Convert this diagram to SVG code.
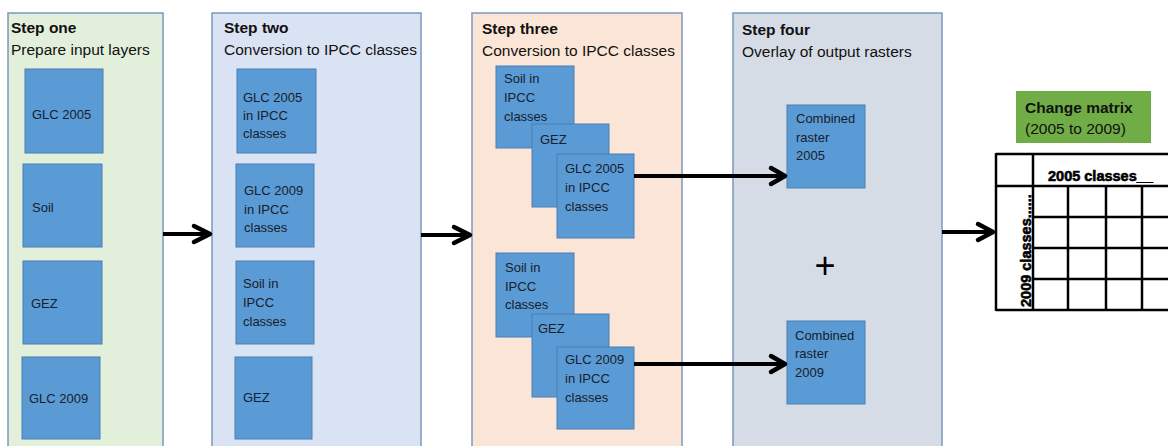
<svg xmlns="http://www.w3.org/2000/svg" width="1168" height="446" viewBox="0 0 1168 446">
<style>
.panel{stroke:#7b98c0;stroke-width:1.5}
.box{fill:#5b9bd5;stroke:#4a7fb0;stroke-width:1}
.t{font-family:"Liberation Sans",Arial,sans-serif;font-size:13px;fill:#16202c}
.h{font-family:"Liberation Sans",Arial,sans-serif;font-size:15.5px;fill:#111}
.hb{font-weight:bold}
.conn line{stroke:#000;stroke-width:4}
.conn polyline{fill:none;stroke:#000;stroke-width:4.5;stroke-linejoin:round;stroke-linecap:round}
.grid line{stroke:#000;stroke-width:2.5}
.m{font-family:"Liberation Sans",Arial,sans-serif;font-size:14.5px;font-weight:bold;fill:#000;stroke:#000;stroke-width:0.6}
</style>
<rect width="1168" height="446" fill="#fff"/>

<g id="step1">
<rect class="panel" x="8" y="13" width="155" height="440" fill="#e2efda"/>
<text class="h hb" x="11" y="33">Step one</text>
<text class="h" x="11" y="55">Prepare input layers</text>
</g>
<g id="s1-glc2005"><rect class="box" x="25" y="69" width="78" height="84"/><text class="t" x="32" y="119">GLC 2005</text></g>
<g id="s1-soil"><rect class="box" x="23" y="164" width="79" height="83"/><text class="t" x="32" y="212">Soil</text></g>
<g id="s1-gez"><rect class="box" x="23" y="261" width="79" height="83"/><text class="t" x="31" y="308">GEZ</text></g>
<g id="s1-glc2009"><rect class="box" x="22" y="357" width="78" height="82"/><text class="t" x="29" y="403">GLC 2009</text></g>

<g id="step2">
<rect class="panel" x="212" y="13" width="209" height="440" fill="#dae3f3"/>
<text class="h hb" x="224" y="33">Step two</text>
<text class="h" x="224" y="55">Conversion to IPCC classes</text>
</g>
<g id="s2-glc2005"><rect class="box" x="237" y="69" width="79" height="84"/><text class="t" x="243" y="102">GLC 2005</text><text class="t" x="243" y="120">in IPCC</text><text class="t" x="243" y="138">classes</text></g>
<g id="s2-glc2009"><rect class="box" x="236" y="164" width="78" height="83"/><text class="t" x="244" y="195">GLC 2009</text><text class="t" x="244" y="214">in IPCC</text><text class="t" x="244" y="232">classes</text></g>
<g id="s2-soil"><rect class="box" x="236" y="261" width="78" height="83"/><text class="t" x="243" y="288">Soil in</text><text class="t" x="243" y="307">IPCC</text><text class="t" x="243" y="326">classes</text></g>
<g id="s2-gez"><rect class="box" x="235" y="357" width="77" height="82"/><text class="t" x="243" y="402">GEZ</text></g>

<g id="step3">
<rect class="panel" x="472" y="13" width="210" height="440" fill="#fbe5d6"/>
<text class="h hb" x="482" y="34">Step three</text>
<text class="h" x="482" y="56">Conversion to IPCC classes</text>
</g>
<g id="s3a-soil"><rect class="box" x="496" y="66" width="78" height="82"/><text class="t" x="504" y="83">Soil in</text><text class="t" x="504" y="102">IPCC</text><text class="t" x="504" y="121">classes</text></g>
<g id="s3a-gez"><rect class="box" x="532" y="124" width="77" height="83"/><text class="t" x="540" y="144">GEZ</text></g>
<g id="s3a-glc2005"><rect class="box" x="557" y="154" width="77" height="84"/><text class="t" x="565" y="173">GLC 2005</text><text class="t" x="565" y="192">in IPCC</text><text class="t" x="565" y="211">classes</text></g>
<g id="s3b-soil"><rect class="box" x="496" y="253" width="78" height="84"/><text class="t" x="505" y="272">Soil in</text><text class="t" x="505" y="291">IPCC</text><text class="t" x="505" y="309">classes</text></g>
<g id="s3b-gez"><rect class="box" x="532" y="314" width="77" height="83"/><text class="t" x="538" y="333">GEZ</text></g>
<g id="s3b-glc2009"><rect class="box" x="557" y="347" width="77" height="82"/><text class="t" x="565" y="364">GLC 2009</text><text class="t" x="565" y="383">in IPCC</text><text class="t" x="565" y="402">classes</text></g>

<g id="step4">
<rect class="panel" x="733" y="13" width="209" height="440" fill="#d6dce5"/>
<text class="h hb" x="742" y="35">Step four</text>
<text class="h" x="742" y="57">Overlay of output rasters</text>
<text x="825" y="278" text-anchor="middle" font-family="Liberation Sans,Arial,sans-serif" font-size="36" fill="#000">+</text>
</g>
<g id="s4-comb2005"><rect class="box" x="787" y="105" width="78" height="83"/><text class="t" x="796" y="123">Combined</text><text class="t" x="796" y="142">raster</text><text class="t" x="796" y="160">2005</text></g>
<g id="s4-comb2009"><rect class="box" x="787" y="321" width="78" height="83"/><text class="t" x="795" y="340">Combined</text><text class="t" x="795" y="358">raster</text><text class="t" x="795" y="377">2009</text></g>

<g id="matrix-label">
<rect x="1016" y="91" width="135" height="52" fill="#70ad47"/>
<text class="h hb" x="1025" y="113" fill="#1a1a1a">Change matrix</text>
<text class="h" x="1025" y="134" fill="#1a1a1a">(2005 to 2009)</text>
</g>

<g id="change-matrix">
<rect x="996" y="154" width="180" height="156" fill="#fff"/>
<g class="grid">
<line x1="996" y1="154" x2="1168" y2="154"/>
<line x1="996" y1="186" x2="1168" y2="186"/>
<line x1="996" y1="310" x2="1168" y2="310"/>
<line x1="1033" y1="217" x2="1168" y2="217"/>
<line x1="1033" y1="248" x2="1168" y2="248"/>
<line x1="1033" y1="279" x2="1168" y2="279"/>
<line x1="996" y1="153" x2="996" y2="311"/>
<line x1="1033" y1="153" x2="1033" y2="311"/>
<line x1="1068" y1="186" x2="1068" y2="311"/>
<line x1="1106" y1="186" x2="1106" y2="311"/>
<line x1="1142" y1="186" x2="1142" y2="311"/>
</g>
<text class="m" x="1048" y="181">2005 classes__</text>
<text class="m" transform="translate(1031,307) rotate(-90)">2009 classes......</text>
</g>

<g id="connectors" class="conn">
<line x1="163" y1="234" x2="209" y2="234"/>
<polyline points="194,226 210,234 194,242"/>
<line x1="421" y1="235" x2="468" y2="235"/>
<polyline points="454,227 470,235 454,243"/>
<line x1="634" y1="176" x2="783" y2="176"/>
<polyline points="771,168 785,176 771,184"/>
<line x1="634" y1="364" x2="783" y2="364"/>
<polyline points="771,356 785,364 771,372"/>
<line x1="942" y1="232" x2="991" y2="232"/>
<polyline points="978,224 993,232 978,240"/>
</g>
</svg>
